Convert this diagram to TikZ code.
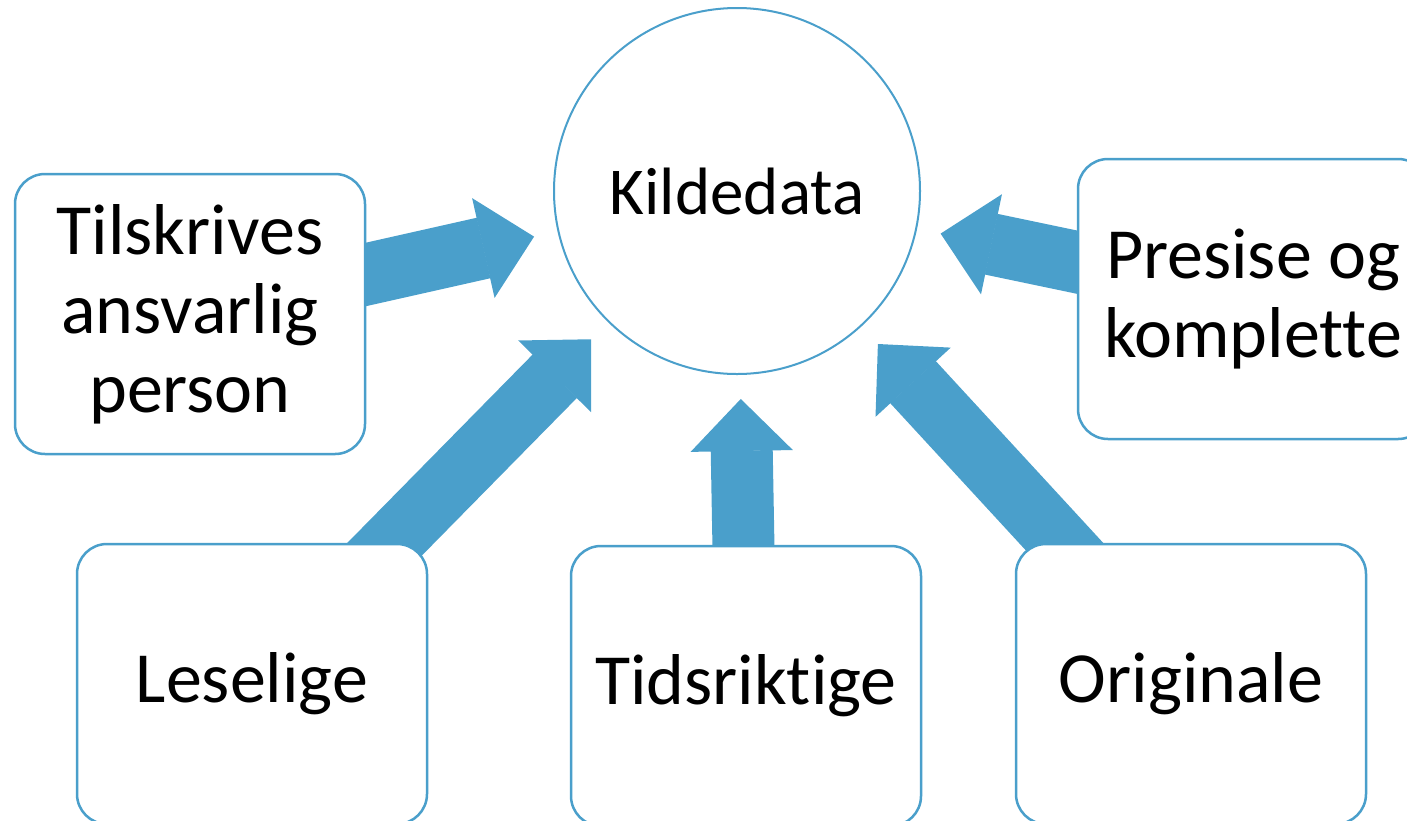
\documentclass[tikz,border=0pt]{standalone}
\usepackage{fontspec}
\setmainfont{Carlito}[Ligatures={NoCommon}, RawFeature={-liga;-clig;-calt}]
\usepackage{tikz}
\usetikzlibrary{arrows.meta, positioning, backgrounds}
\definecolor{boxblue}{RGB}{74,159,203}
\tikzstyle{quality} = [rectangle, rounded corners=30pt, minimum width=350pt, minimum height=280pt, inner sep=0pt, text centered, align=center, draw=boxblue, line width=2.5pt, fill=white, font=\fontsize{72}{79}\selectfont]
\tikzstyle{source} = [circle, minimum size=366pt, inner sep=0pt, draw=boxblue, line width=2pt, fill=white, font=\fontsize{67}{79}\selectfont]
\tikzstyle{blockarrow} = [draw=boxblue, line width=62pt, -{Triangle[length=52pt, width=102pt, line width=1.5pt]}, shorten >=24pt]

\begin{document}
\begin{tikzpicture}[x=1pt, y=-1pt]
\useasboundingbox (0,0) rectangle (1407,820);
\clip (0,0) rectangle (1407,820);

% Nodes
\node (kilde) [source] at (737,191) {Kildedata};
\node (tilsk) [quality] at (190,314) {Tilskrives\\ansvarlig\\person};
\node (presise) [quality] at (1253,299) {Presise og\\komplette};
\node (lese) [quality] at (252,684) {Leselige};
\node (tids) [quality] at (746,686) {Tidsriktige};
\node (orig) [quality] at (1191,684) {Originale};

% Arrows (behind the boxes)
\begin{scope}[on background layer]
\draw [blockarrow] (tilsk.center) -- (kilde);
\draw [blockarrow] (lese.center) -- (kilde);
\draw [blockarrow] (tids.center) -- (kilde);
\draw [blockarrow] (orig.center) -- (kilde);
\draw [blockarrow] (presise.center) -- (kilde);
\end{scope}

\end{tikzpicture}
\end{document}
